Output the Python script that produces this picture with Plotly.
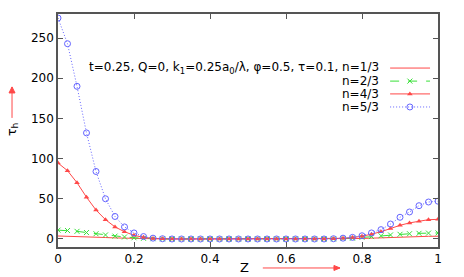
import plotly.graph_objects as go

z = [0.0, 0.025, 0.05, 0.075, 0.1, 0.125, 0.15, 0.175, 0.2, 0.225,
     0.25, 0.275, 0.3, 0.325, 0.35, 0.375, 0.4, 0.425, 0.45, 0.475,
     0.5, 0.525, 0.55, 0.575, 0.6, 0.625, 0.65, 0.675, 0.7, 0.725,
     0.75, 0.775, 0.8, 0.825, 0.85, 0.875, 0.9, 0.925, 0.95, 0.975, 1.0]

tau_n1 = [3.7, 3.5, 3.2, 2.8, 2.3, 1.8, 1.3, 0.9, 0.5, 0.3,
          0.1, 0.05, 0, 0, 0, 0, 0, 0, 0, 0,
          0, 0, 0, 0, 0, 0, 0, 0, 0, 0.05,
          0.15, 0.3, 0.6, 1.0, 1.5, 2.0, 2.4, 2.8, 3.1, 3.3, 3.4]
tau_n2 = [11, 10.5, 9.5, 8, 6.5, 5, 3.5, 2.5, 1.5, 0.8,
          0.3, 0.1, 0, 0, 0, 0, 0, 0, 0, 0,
          0, 0, 0, 0, 0, 0, 0, 0, 0, 0.1,
          0.5, 1, 2, 3, 4, 5, 5.8, 6.5, 7, 7.3, 7.5]
tau_n4 = [94.5, 85, 70, 52, 36, 24, 15, 9, 4.5, 2,
          0.7, 0.2, 0, 0, 0, 0, 0, 0, 0, 0,
          0, 0, 0, 0, 0, 0, 0, 0, 0, 0.3,
          0.8, 1.8, 3.3, 6, 9, 13, 17, 20, 22, 24, 24.4]
tau_n5 = [275, 243, 190, 132, 84, 50, 28, 15, 7.5, 3,
          1, 0.3, 0, 0, 0, 0, 0, 0, 0, 0,
          0, 0, 0, 0, 0, 0, 0, 0, 0, 0.3,
          1, 2, 4, 7.5, 11.6, 18.6, 27, 33.6, 41.4, 46, 47]

labels = ["t=0.25, Q=0, k<sub>1</sub>=0.25a<sub>0</sub>/λ, φ=0.5, τ=0.1, n=1/3",
          "n=2/3", "n=4/3", "n=5/3"]
x_ticks = [0, 0.2, 0.4, 0.6, 0.8, 1]
x_ticktext = ["0", "0.2", "0.4", "0.6", "0.8", "1"]
y_ticks = [0, 50, 100, 150, 200, 250]

FONT = "DejaVu Sans, Liberation Sans, Arial"
RED = "#ff4848"
GREEN = "#38e038"
BLUE = "#6464ff"

styles = [
    dict(line=dict(color=RED, width=1), mode="lines", marker=dict()),
    dict(line=dict(color=GREEN, width=1, dash="dash"), mode="lines+markers",
         marker=dict(symbol="x-thin-open", size=5, color=GREEN, line=dict(width=1, color=GREEN))),
    dict(line=dict(color=RED, width=1), mode="lines+markers",
         marker=dict(symbol="triangle-up", size=5, color=RED)),
    dict(line=dict(color=BLUE, width=1, dash="1px,2px"), mode="lines+markers",
         marker=dict(symbol="circle-open", size=6, color=BLUE, line=dict(width=1, color=BLUE))),
]
series = [tau_n1, tau_n2, tau_n4, tau_n5]

fig = go.Figure()
for s, st in zip(series, styles):
    fig.add_trace(go.Scatter(x=z, y=s, mode=st["mode"], line=st["line"],
                             marker=st["marker"], showlegend=False))

# manual legend (text left of sample, gnuplot style)
leg_y = [0.768, 0.712, 0.657, 0.601]
for lab, st, ly in zip(labels, styles, leg_y):
    fig.add_trace(go.Scatter(x=[0.874, 0.979], y=[ly, ly], mode="lines", line=st["line"],
                             xaxis="x2", yaxis="y2", showlegend=False, hoverinfo="skip"))
    if st["mode"] != "lines":
        fig.add_trace(go.Scatter(x=[0.926], y=[ly], mode="markers", marker=st["marker"],
                                 xaxis="x2", yaxis="y2", showlegend=False, hoverinfo="skip"))
    fig.add_annotation(xref="paper", yref="paper", x=0.85, y=ly, text=lab, showarrow=False,
                       xanchor="right", yanchor="middle",
                       font=dict(family=FONT, size=12, color="black"))

# axis labels with red arrows (gnuplot style)
fig.add_annotation(xref="paper", yref="paper", x=0.492, y=-0.09, text="Z", showarrow=False,
                   xanchor="center", yanchor="middle",
                   font=dict(family=FONT, size=13, color="black"))
fig.add_shape(type="line", xref="paper", yref="paper", x0=0.539, x1=0.742, y0=-0.09, y1=-0.09,
              line=dict(color=RED, width=1))
fig.add_shape(type="path", xref="paper", yref="paper",
              path="M 0.742,-0.09 L 0.7262,-0.0793 L 0.7262,-0.1007 Z",
              fillcolor=RED, line=dict(color=RED, width=1))
fig.add_annotation(xref="paper", yref="paper", x=-0.121, y=0.505, text="τ<sub>h</sub>", showarrow=False,
                   textangle=-90, xanchor="center", yanchor="middle",
                   font=dict(family=FONT, size=13, color="black"))
fig.add_shape(type="line", xref="paper", yref="paper", x0=-0.121, x1=-0.121, y0=0.554, y1=0.687,
              line=dict(color=RED, width=1))
fig.add_shape(type="path", xref="paper", yref="paper",
              path="M -0.121,0.687 L -0.1289,0.6612 L -0.1131,0.6612 Z",
              fillcolor=RED, line=dict(color=RED, width=1))

axis_common = dict(showgrid=False, zeroline=False, showline=True, mirror="allticks",
                   linecolor="#555555", linewidth=1.5, ticks="inside", ticklen=5,
                   tickcolor="#555555",
                   tickfont=dict(family=FONT, size=12, color="black"))

fig.update_layout(
    width=464, height=277,
    margin=dict(l=58, r=26, t=14, b=30),
    paper_bgcolor="white", plot_bgcolor="white",
    xaxis=dict(range=[0, 1], tickvals=x_ticks, ticktext=x_ticktext, **axis_common),
    yaxis=dict(range=[-10, 280], tickvals=y_ticks, **axis_common),
    xaxis2=dict(range=[0, 1], overlaying="x", visible=False),
    yaxis2=dict(range=[0, 1], overlaying="y", visible=False),
    showlegend=False,
)

fig.write_html("out.html", config={"displayModeBar": False},
               post_script="document.body.style.margin='0';document.body.style.overflow='hidden';")
